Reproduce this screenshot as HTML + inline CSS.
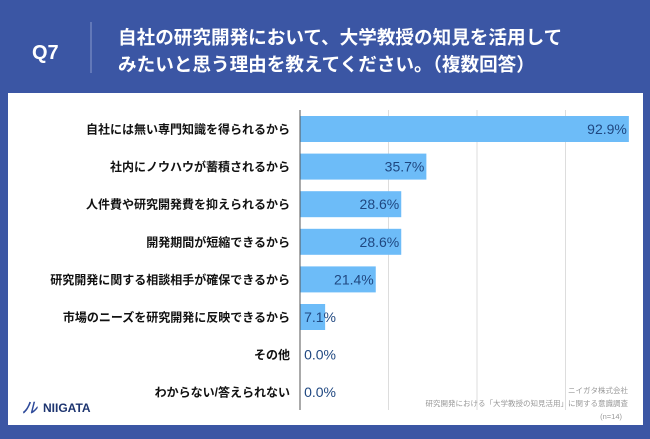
<!DOCTYPE html>
<html><head><meta charset="utf-8"><style>
body{margin:0;width:650px;height:434px;overflow:hidden;background:#3b56a4;font-family:"Liberation Sans","Noto Sans CJK JP",sans-serif}
</style></head><body>
<svg width="650" height="434" xmlns="http://www.w3.org/2000/svg">
<rect x="0" y="0" width="650" height="434" fill="#3b56a4"/>
<text x="32" y="59" fill="#fff" font-size="20" font-weight="bold">Q7</text>
<line x1="91" y1="22" x2="91" y2="73" stroke="#8a9bcc" stroke-width="1"/>
<text x="118" y="44" fill="#fff" font-size="18.6" font-weight="bold">自社の研究開発において、大学教授の知見を活用して</text>
<text x="118" y="71" fill="#fff" font-size="18.6" font-weight="bold">みたいと思う理由を教えてください。（複数回答）</text>
<rect x="8" y="93" width="635" height="332" fill="#fff"/>
<g id="grid"></g>
<g id="bars"></g>
<line x1="300" y1="110" x2="300" y2="410" stroke="#555" stroke-width="1"/>
<g>
<text x="22" y="413" fill="#2e4a9a" font-size="15" font-weight="bold" font-style="italic">ﾉﾚ</text>
<text x="43" y="412" fill="#1e3570" font-size="12" font-weight="bold">NIIGATA</text>
</g>
<text x="628" y="393" fill="#999" font-size="7.5" text-anchor="end">ニイガタ株式会社</text>
<text x="628" y="406" fill="#999" font-size="7.5" text-anchor="end">研究開発における「大学教授の知見活用」に関する意識調査</text>
<text x="622" y="419" fill="#999" font-size="7.5" text-anchor="end">(n=14)</text>
</svg>
<script>
const categories=["自社には無い専門知識を得られるから","社内にノウハウが蓄積されるから","人件費や研究開発費を抑えられるから","開発期間が短縮できるから","研究開発に関する相談相手が確保できるから","市場のニーズを研究開発に反映できるから","その他","わからない/答えられない"];
const values=[92.9,35.7,28.6,28.6,21.4,7.1,0.0,0.0];
const gridTicks=[25,50,75];
const NS="http://www.w3.org/2000/svg";
const x0=300,pxPer=3.54,y0=116,step=37.6,bh=26;
function xs(v){return x0+v*pxPer;}
function ys(i){return y0+i*step;}
const grid=document.getElementById('grid'),bars=document.getElementById('bars');
gridTicks.forEach(t=>{const l=document.createElementNS(NS,'line');
l.setAttribute('x1',xs(t));l.setAttribute('x2',xs(t));l.setAttribute('y1',110);l.setAttribute('y2',410);
l.setAttribute('stroke','#ddd');


grid.appendChild(l);});
categories.forEach((c,i)=>{
const y=ys(i);
const lab=document.createElementNS(NS,'text');
lab.setAttribute('x',290);lab.setAttribute('y',y+bh/2+4.5);lab.setAttribute('text-anchor','end');
lab.setAttribute('font-size','12');lab.setAttribute('font-weight','bold');lab.setAttribute('fill','#111');
lab.textContent=c;


bars.appendChild(lab);
const r=document.createElementNS(NS,'rect');
r.setAttribute('x',x0);r.setAttribute('y',y);r.setAttribute('width',Math.max(0,xs(values[i])-x0));r.setAttribute('height',bh);
r.setAttribute('fill','#6dbcf8');


bars.appendChild(r);
const t=document.createElementNS(NS,'text');
t.setAttribute('x',Math.max(xs(values[i])-2,x0+36));t.setAttribute('y',y+bh/2+5);t.setAttribute('text-anchor','end');
t.setAttribute('font-size','14');t.setAttribute('fill','#1f4780');
t.textContent=values[i].toFixed(1)+'%';


bars.appendChild(t);
});
</script>
</body></html>
